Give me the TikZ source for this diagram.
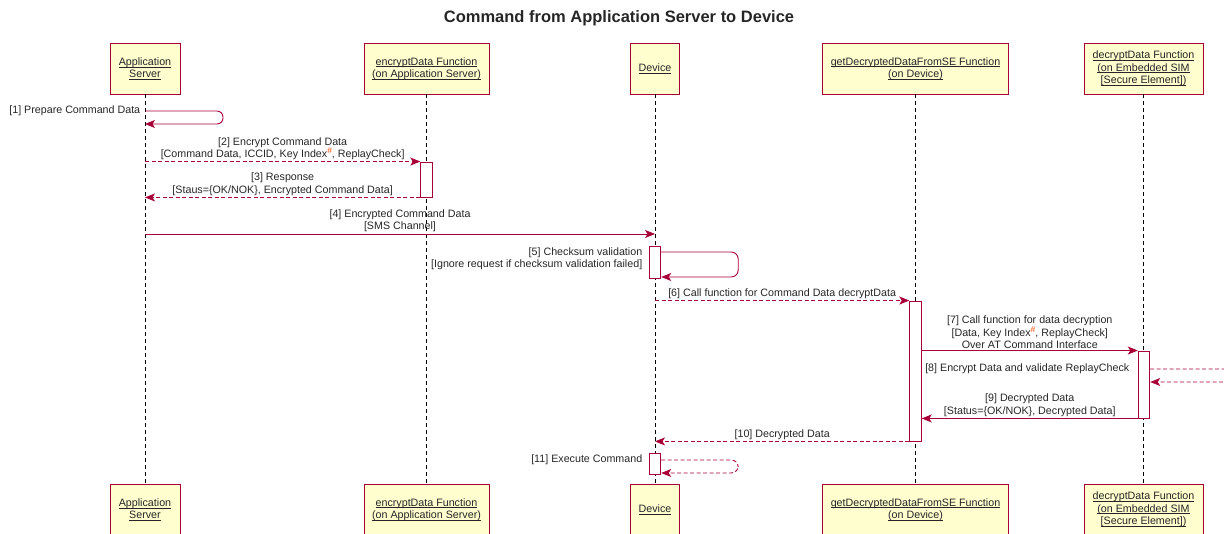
\documentclass[tikz,border=0pt]{standalone}
\usepackage{fontspec}
\setmainfont{Liberation Sans}
\usetikzlibrary{arrows.meta}
\definecolor{umlred}{HTML}{A80036}
\definecolor{umlfill}{HTML}{FEFECE}
\definecolor{hashred}{HTML}{FF4500}
\newcommand{\keyidx}{Key Index\raisebox{3.5pt}{\fontsize{8.5}{9}\selectfont\color{hashred}\#}}
\newcommand{\uln}[1]{\setbox0\hbox{#1}\rlap{\rule[-1.7pt]{\wd0}{0.55pt}}\box0}
\begin{document}
\begin{tikzpicture}[x=1pt,y=-1pt,
    every node/.style={font=\fontsize{10.7}{12.3}\selectfont, text=black!85},
    part/.style={draw=umlred, fill=umlfill, line width=0.9pt, minimum height=51pt,
      align=center, inner sep=2pt},
    life/.style={dash pattern=on 4pt off 3pt, line width=0.6pt},
    act/.style={draw=umlred, fill=white, line width=0.9pt, minimum width=11.5pt, inner sep=0pt},
    msg/.style={draw=umlred, line width=0.9pt, -{Stealth[length=10pt,width=8pt,inset=2.5pt]}},
    reply/.style={msg, dash pattern=on 4pt off 2.5pt},
    lbl/.style={above, inner sep=1.5pt, align=center}]
  \useasboundingbox (0,0) rectangle (1224,534);
  \node[font=\fontsize{16.5}{20}\selectfont\bfseries] (title) at (619,18)
    {Command from Application Server to Device};

  % participants, top and bottom
  \node[part, minimum width=70pt] (as) at (145,68.5) {\uln{Application}\\\uln{Server}};
  \node[part, minimum width=125pt] (en) at (426.5,68.5) {\uln{encryptData Function}\\\uln{(on Application Server)}};
  \node[part, minimum width=49pt] (dv) at (655,68.5) {\uln{Device}};
  \node[part, minimum width=186pt] (gd) at (915.5,68.5) {\uln{getDecryptedDataFromSE Function}\\\uln{(on Device)}};
  \node[part, minimum width=119pt] (se) at (1143.5,68.5) {\uln{decryptData Function}\\\uln{(on Embedded SIM}\\\uln{[Secure Element])}};
  \node[part, minimum width=70pt] (asB) at (145,509.5) {\uln{Application}\\\uln{Server}};
  \node[part, minimum width=125pt] (enB) at (426.5,509.5) {\uln{encryptData Function}\\\uln{(on Application Server)}};
  \node[part, minimum width=49pt] (dvB) at (655,509.5) {\uln{Device}};
  \node[part, minimum width=186pt] (gdB) at (915.5,509.5) {\uln{getDecryptedDataFromSE Function}\\\uln{(on Device)}};
  \node[part, minimum width=119pt] (seB) at (1143.5,509.5) {\uln{decryptData Function}\\\uln{(on Embedded SIM}\\\uln{[Secure Element])}};

  % lifelines
  \begin{scope}[life]
    \draw (as) -- (asB);
    \draw (en) -- (enB);
    \draw (dv) -- (dvB);
    \draw (gd) -- (gdB);
    \draw (se) -- (seB);
  \end{scope}

  % activations
  \node[act, minimum height=35pt] (e1) at (426.5,179.5) {};
  \node[act, minimum height=32pt] (d1) at (655,262) {};
  \node[act, minimum height=140pt] (g1) at (915.5,371) {};
  \node[act, minimum height=67pt] (s1) at (1144,384.5) {};
  \node[act, minimum height=21pt] (d2) at (655,463.5) {};

  % messages
  \draw[msg, rounded corners=6pt] (as.south |- 0,111) node[left=1pt] {[1] Prepare Command Data}
    -- ++(78,0) |- (as.south |- 0,124);
  \draw[reply] (as.south |- e1.north) -- (e1.north west)
    node[lbl, midway] {[2] Encrypt Command Data\\{}[Command Data, ICCID, \keyidx, ReplayCheck]};
  \draw[reply] (e1.south west) -- (as.south |- e1.south)
    node[lbl, midway] {[3] Response\\{}[Staus=\{OK/NOK\}, Encrypted Command Data]};
  \draw[msg] (as.south |- 0,234) -- (dv.south |- 0,234)
    node[lbl, midway] {[4] Encrypted Command Data\\{}[SMS Channel]};
  \node[left=3pt, align=right] (l5) at (d1.west |- 0,259)
    {[5] Checksum validation\\{}[Ignore request if checksum validation failed]};
  \draw[msg, rounded corners=7pt] (d1.east |- 0,252) -- ++(77,0) |- (d1.east |- 0,277);
  \draw[reply] (dv.south |- g1.north) -- (g1.north west)
    node[lbl, midway] {[6] Call function for Command Data decryptData};
  \draw[msg] (g1.east |- s1.north) -- (s1.north west)
    node[lbl, midway] {[7] Call function for data decryption\\{}[Data, \keyidx, ReplayCheck]\\Over AT Command Interface};
  \node[left=5pt] (l8) at (s1.west |- 0,369) {[8] Encrypt Data and validate ReplayCheck};
  \draw[reply, rounded corners=7pt] (s1.east |- 0,369) -- ++(110,0) |- (s1.east |- 0,382);
  \draw[msg] (s1.south west) -- (g1.east |- s1.south)
    node[lbl, midway] {[9] Decrypted Data\\{}[Status=\{OK/NOK\}, Decrypted Data]};
  \draw[reply] (g1.south west) -- (dv.south |- g1.south)
    node[lbl, midway] {[10] Decrypted Data};
  \node[left=3pt] (l11) at (d2.west |- 0,460) {[11] Execute Command};
  \draw[reply, rounded corners=7pt] (d2.east |- 0,460) -- ++(77,0) |- (d2.east |- 0,473);
\end{tikzpicture}
\end{document}
